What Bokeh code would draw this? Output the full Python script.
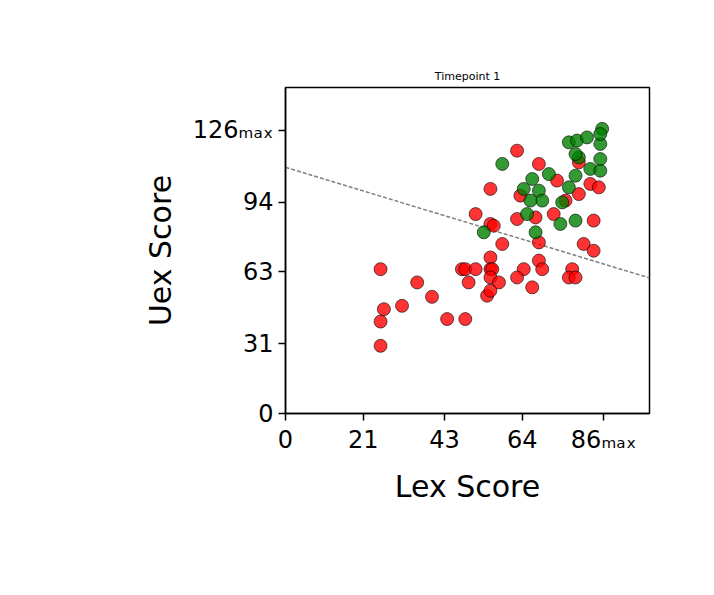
from bokeh.plotting import figure
from bokeh.models import Range1d, FixedTicker
from bokeh.embed import file_html
from bokeh.resources import INLINE

red_x = [25.7,35.6,39.6,31.5,26.6,25.7,25.7,43.7,48.6,47.7,48.6,51.4,49.5,55.4,55.4,55.9,55.4,57.7,54.5,55.4,
         58.6,51.4,55.4,55.4,56.3,62.6,68.5,63.5,62.6,67.6,68.5,68.5,69.4,64.4,62.6,66.7,72.5,73.4,75.7,79.3,
         79.3,82.4,84.7,83.3,80.6,83.3,77.5,76.6,78.4]
red_y = [64.2,58.3,51.9,47.9,46.4,40.9,30.1,42.0,42.0,64.2,64.2,64.2,58.3,69.4,64.2,64.2,60.5,58.3,52.4,54.6,
         75.4,88.7,99.9,84.3,83.5,116.9,111.0,96.9,86.5,87.2,76.1,68.0,64.2,64.2,60.5,56.1,88.7,103.6,94.7,97.6,
         111.7,102.1,100.6,85.8,75.4,72.4,64.2,60.5,60.5]
green_x = [58.6,53.6,66.7,64.4,71.2,68.5,69.4,66.2,65.3,67.6,74.3,78.4,76.6,78.4,82.4,85.1,85.1,79.3,78.4,76.6,
           78.8,81.5,85.1,85.6,85.1,74.8]
green_y = [111.0,80.6,104.3,99.9,106.5,99.1,94.7,94.7,88.7,80.6,84.3,85.8,100.6,105.8,108.8,108.0,113.2,113.9,115.4,120.6,
           121.4,122.8,119.9,126.6,124.3,93.9]
fit_intercept = 109.5
fit_slope = -0.5
x_ticks = [0, 21, 43, 64, 86]
y_ticks = [0, 31, 63, 94, 126]
x_max, y_max = 98.4, 145.0

p = figure(width=706, height=587, output_backend="svg", toolbar_location=None,
           x_range=Range1d(0, x_max), y_range=Range1d(0, y_max),
           min_border_left=285, min_border_right=57, min_border_top=87, min_border_bottom=174,
           title="Timepoint 1")
p.title.align = "center"
p.title.text_font_size = "11px"
p.title.text_font_style = "normal"
p.title.text_font = "DejaVu Sans"
p.title.text_color = "black"
p.grid.visible = False
p.outline_line_color = "black"
p.outline_line_width = 1.5

xs = [0, x_max]
p.line(xs, [fit_intercept + fit_slope * v for v in xs], line_color="gray", line_dash="4 2", line_width=1.5)
p.scatter(red_x, red_y, size=13, fill_color="red", fill_alpha=0.8, line_color="black", line_width=0.6)
p.scatter(green_x, green_y, size=13, fill_color="green", fill_alpha=0.8, line_color="black", line_width=0.6)

p.xaxis.ticker = FixedTicker(ticks=x_ticks)
p.yaxis.ticker = FixedTicker(ticks=y_ticks)
p.xaxis.major_label_overrides = {86: "86ₘₐₓ"}
p.yaxis.major_label_overrides = {126: "126ₘₐₓ"}
p.xaxis.axis_label = "Lex Score"
p.yaxis.axis_label = "Uex Score"
for ax in (p.xaxis, p.yaxis):
    ax.axis_label_text_font = "DejaVu Sans"
    ax.axis_label_text_font_size = "30px"
    ax.axis_label_text_font_style = "normal"
    ax.axis_label_text_color = "black"
    ax.major_label_text_font = "DejaVu Sans"
    ax.major_label_text_font_size = "24px"
    ax.major_label_text_color = "black"
    ax.minor_tick_line_color = None
    ax.major_tick_in = 0
    ax.major_tick_out = 7
    ax.axis_line_width = 1.5
    ax.major_tick_line_width = 1.5
    ax.axis_label_standoff = 12

open("out.html", "w").write(file_html(p, INLINE))
